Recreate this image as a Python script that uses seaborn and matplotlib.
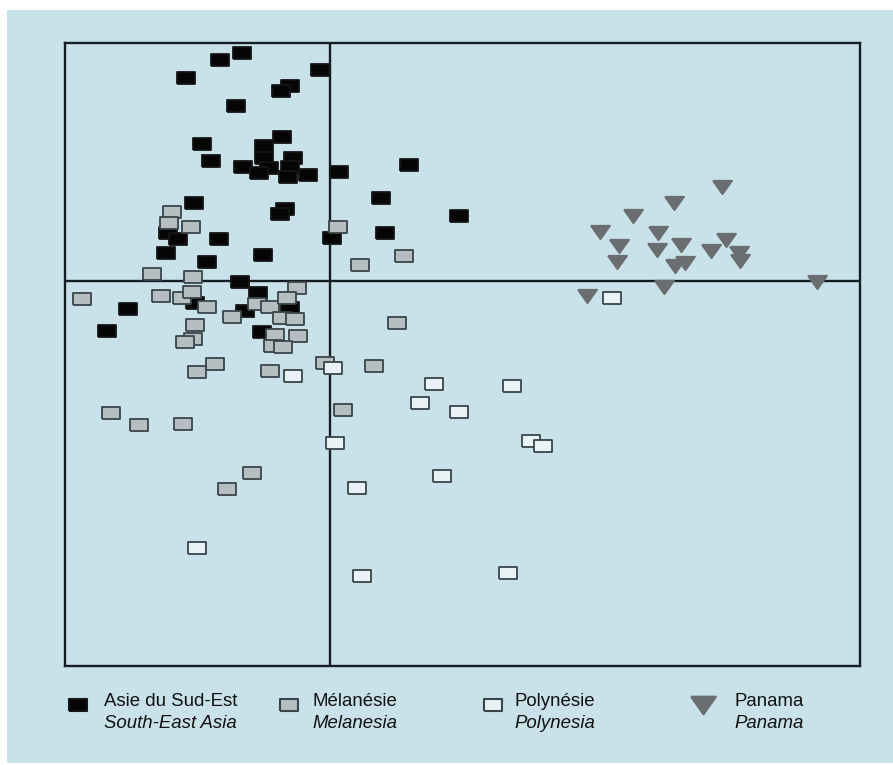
"""
Scatter plot of four regional groups on a two-axis factorial map
"""

import numpy as np
import pandas as pd
import matplotlib
matplotlib.use('Agg')
import matplotlib.pyplot as plt
from matplotlib.patches import Rectangle
import seaborn as sns

# --- data (arbitrary factor units) ---
asia_x = [-0.88, -1.10, -1.44, -0.10, -0.40, -0.49, -0.94, -0.48, -0.66, -1.28,
          -1.19, -0.37, -0.66, -0.87, -0.61, -0.71, -0.40, -0.42, -0.22, 0.09,
          -0.45, -0.50, -1.36, -1.62, -1.52, -1.64, -1.11, -0.67, -1.23, 0.02,
          -0.90, 0.79, 0.51, 1.29, 0.55, -2.02, -2.23, -0.72, -1.35, -0.85,
          -0.68, -0.40]
asia_y = [2.28, 2.21, 2.03, 2.11, 1.95, 1.90, 1.75, 1.44, 1.35, 1.37,
          1.20, 1.23, 1.23, 1.14, 1.13, 1.08, 1.14, 1.04, 1.06, 1.09,
          0.72, 0.67, 0.78, 0.48, 0.42, 0.28, 0.42, 0.26, 0.19, 0.43,
          -0.01, 1.16, 0.83, 0.65, 0.48, -0.28, -0.50, -0.12, -0.22, -0.30,
          -0.51, -0.27]

melanesia_x = [-1.58, -1.61, -1.39, 0.08, -1.78, -1.37, 0.30, -0.33, 0.74, 0.67,
               0.44, -0.05, 0.13, -2.48, -1.69, -1.48, -1.38, -1.23, -0.98, -0.73,
               -0.60, -0.43, -0.48, -0.35, -1.35, -1.37, -1.45, -0.55, -0.32, -0.57,
               -0.47, -1.15, -1.33, -0.60, -2.19, -1.91, -1.47, -0.78, -1.03]
melanesia_y = [0.69, 0.58, 0.54, 0.54, 0.07, 0.04, 0.16, -0.07, 0.25, -0.42,
               -0.85, -0.82, -1.29, -0.18, -0.15, -0.17, -0.11, -0.26, -0.36, -0.23,
               -0.26, -0.17, -0.37, -0.38, -0.44, -0.58, -0.61, -0.54, -0.55, -0.65,
               -0.66, -0.83, -0.91, -0.90, -1.32, -1.44, -1.43, -1.92, -2.08]

polynesia_x = [-0.37, 0.03, 1.04, 1.82, 0.90, 1.29, 2.01, 2.13, 0.05, -1.33,
               0.27, 0.32, 1.12, 1.78, 2.82]
polynesia_y = [-0.95, -0.87, -1.03, -1.05, -1.22, -1.31, -1.60, -1.65, -1.62, -2.67,
               -2.07, -2.95, -1.95, -2.92, -0.17]

panama_x = [3.92, 3.44, 3.03, 2.70, 3.28, 2.89, 3.51, 3.27, 3.96, 3.81,
            4.09, 4.10, 2.87, 3.45, 3.55, 3.34, 4.87, 2.57]
panama_y = [0.94, 0.78, 0.65, 0.49, 0.48, 0.35, 0.36, 0.31, 0.41, 0.30,
            0.28, 0.20, 0.19, 0.15, 0.18, -0.06, -0.01, -0.15]

legend_fr = ['Asie du Sud-Est', 'Mélanésie', 'Polynésie', 'Panama']
legend_en = ['South-East Asia', 'Melanesia', 'Polynesia', 'Panama']

# --- styling ---
BG = '#c9e2ea'
EDGE = '#38454a'
rect_marker = [(-1.4, -1), (1.4, -1), (1.4, 1), (-1.4, 1), (-1.4, -1)]
tri_marker = [(-1.35, 0.95), (1.35, 0.95), (0, -0.95), (-1.35, 0.95)]

groups = [
    (asia_x, asia_y, dict(color='#050505', edgecolor='#151515', marker=rect_marker, s=165)),
    (melanesia_x, melanesia_y, dict(color='#b6bec2', edgecolor=EDGE, marker=rect_marker, s=165)),
    (polynesia_x, polynesia_y, dict(color='#e9f2f5', edgecolor=EDGE, marker=rect_marker, s=165)),
    (panama_x, panama_y, dict(color='#6b6e70', edgecolor='#6b6e70', marker=tri_marker, s=190)),
]

sns.set_style("white")
plt.rcParams['font.family'] = ['Liberation Sans', 'DejaVu Sans']

W, H = 893, 765
fig = plt.figure(figsize=(W / 100, H / 100), dpi=100, facecolor='white')
fig.patches.append(Rectangle((7 / W, 2 / H), (W - 7) / W, (763 - 10) / H,
                             transform=fig.transFigure, facecolor=BG,
                             edgecolor='none', zorder=-5))

left, right, top, bottom = 65, 860, 43, 666
ax = fig.add_axes([left / W, 1 - bottom / H, (right - left) / W, (bottom - top) / H])
ax.set_facecolor(BG)

for gx, gy, kw in groups:
    df = pd.DataFrame({'x': gx, 'y': gy})
    sns.scatterplot(data=df, x='x', y='y', ax=ax, linewidth=1.3, zorder=3, **kw)

ax.axhline(0, color='#141e22', lw=1.7, zorder=2)
ax.axvline(0, color='#141e22', lw=1.7, zorder=2)

ax.set_xlim(-2.65, 5.30)
ax.set_ylim(-3.85, 2.38)
ax.set_xticks([])
ax.set_yticks([])
ax.set_xlabel('')
ax.set_ylabel('')
for sp in ax.spines.values():
    sp.set_color('#141e22')
    sp.set_linewidth(1.7)

# --- legend drawn by hand: marker + two text lines ---
mk_x = [78, 289, 493, 703]
tx_x = [104, 312, 514, 734]
for i, (fr, en) in enumerate(zip(legend_fr, legend_en)):
    kw = dict(groups[i][2])
    fig.add_artist(plt.Line2D([mk_x[i] / W], [1 - 705 / H], transform=fig.transFigure,
                              marker=kw['marker'], linestyle='none',
                              markersize=13 if i < 3 else 18,
                              markerfacecolor=kw['color'], markeredgecolor=kw['edgecolor'],
                              markeredgewidth=1.5))
    fig.text(tx_x[i] / W, 1 - 702 / H, fr, fontsize=13.4, color='#111111', va='center', ha='left')
    fig.text(tx_x[i] / W, 1 - 724 / H, en, fontsize=13.4, color='#111111', va='center',
             ha='left', style='italic')

plt.savefig('out.png', dpi=100, facecolor=fig.get_facecolor())
print("saved out.png")
